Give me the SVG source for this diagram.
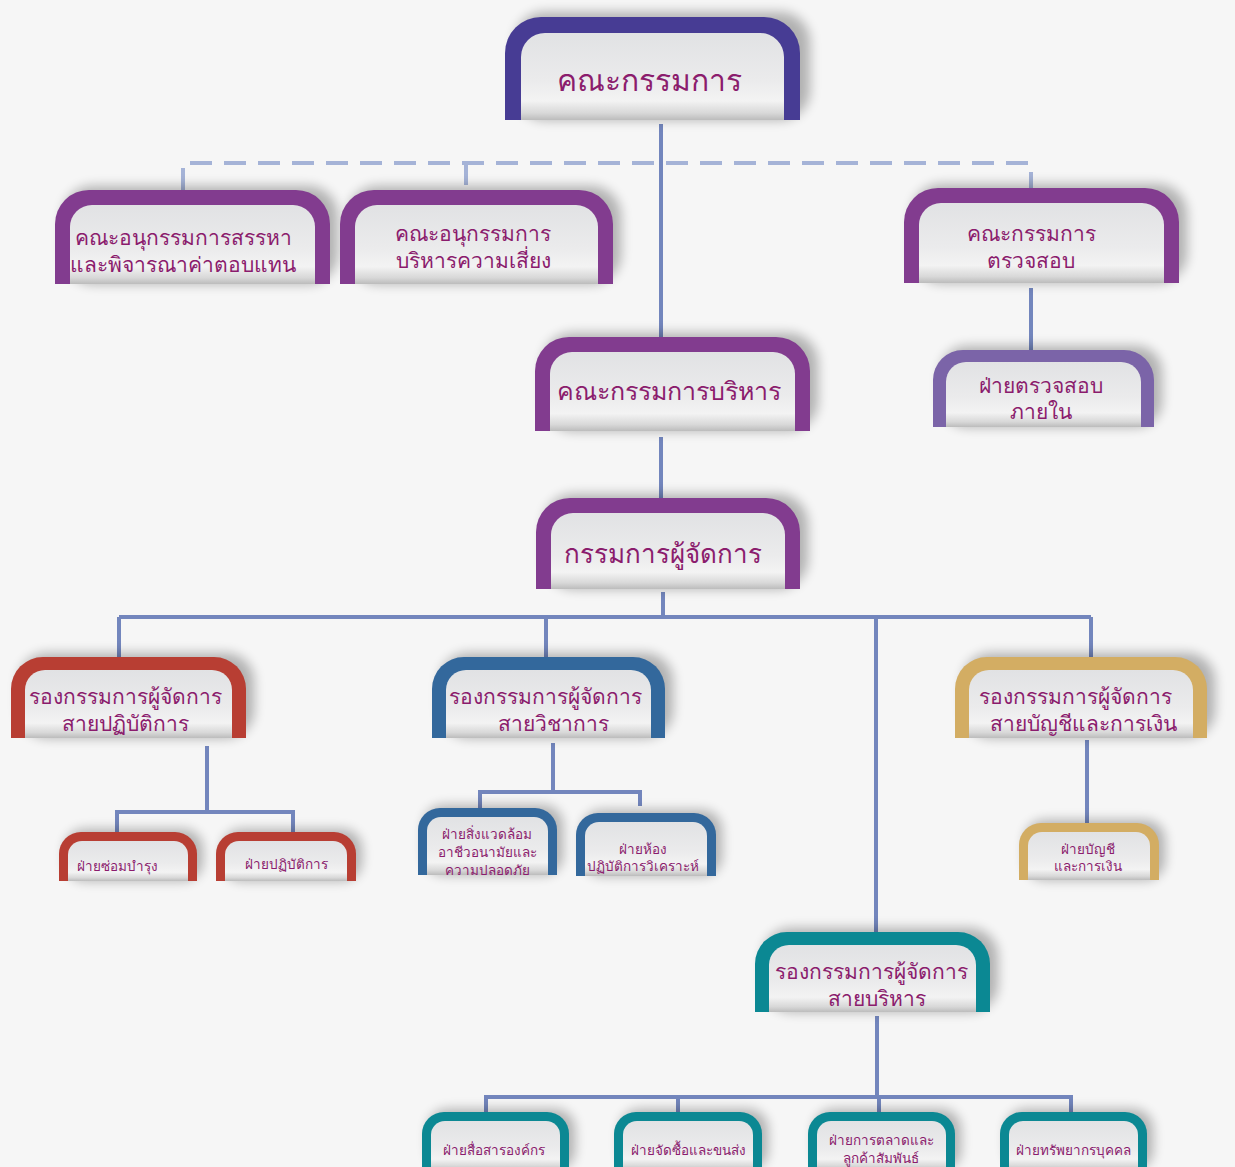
<svg xmlns="http://www.w3.org/2000/svg" width="1235" height="1167" viewBox="0 0 1235 1167">
<style>
.bg{fill:#f6f6f6}
.in{fill:url(#gIn)}
.c-ind{fill:#473c94}.c-pur{fill:#823c8f}.c-lp{fill:#7b64a8}.c-red{fill:#b83e33}.c-blu{fill:#33689c}.c-gld{fill:#d3ad63}.c-tea{fill:#0b8893}
.sh{fill:#000;opacity:.28;filter:url(#blur)}
.ln{stroke:#7386bd;stroke-width:4;fill:none}
.dash{stroke:#a5b3d7;stroke-width:4;fill:none;stroke-dasharray:22 12}
text{font-family:"Noto Sans","DejaVu Sans",sans-serif;fill:#8b1c6d;text-anchor:middle}
.xl{font-size:30px}.l{font-size:25px}.md{font-size:26px}.m{font-size:21px}.s{font-size:13.5px}
</style>
<defs>
<linearGradient id="gIn" x1="0" y1="0" x2="0" y2="1">
<stop offset="0" stop-color="#e1e2e4"/>
<stop offset="0.55" stop-color="#ebebec"/>
<stop offset="0.78" stop-color="#f3f3f3"/>
<stop offset="0.92" stop-color="#d8d8d8"/>
<stop offset="1" stop-color="#bcbcbc"/>
</linearGradient>
<filter id="blur" x="-20%" y="-30%" width="140%" height="160%"><feGaussianBlur stdDeviation="6"/></filter>
</defs>
<rect class="bg" x="0" y="0" width="1235" height="1167"/>

<g id="connectors">
<path class="dash" d="M183,190 V163 H1031 V188 M466,163 V190"/>
<path class="ln" d="M661,124 V337 M661,437 V498 M663,592 V617 M119,617 H1091 M119,617 V657 M546,617 V657 M876,617 V932 M1091,617 V657"/>
<path class="ln" d="M1031,288 V350"/>
<path class="ln" d="M207,746 V812 M117,832 V812 H293 V832"/>
<path class="ln" d="M553,743 V792 M480,808 V792 H640 V806"/>
<path class="ln" d="M1087,740 V825"/>
<path class="ln" d="M877,1016 V1097 M486,1113 V1097 H1071 V1113 M678,1097 V1113 M879,1097 V1113"/>
</g>

<g id="n-board">
<rect class="sh" x="515" y="12" width="295" height="108" rx="30"/>
<path class="c-ind" d="M505,120 V53 A36 36 0 0 1 541,17 H764 A36 36 0 0 1 800,53 V120 Z"/>
<path class="in" d="M521,120 V57 A24 24 0 0 1 545,33 H760 A24 24 0 0 1 784,57 V120 Z"/>
<text class="xl" x="649" y="91">คณะกรรมการ</text>
</g>

<g id="n-nomination">
<rect class="sh" x="63" y="186" width="275" height="98" rx="30"/>
<path class="c-pur" d="M55,284 V224 A34 34 0 0 1 89,190 H296 A34 34 0 0 1 330,224 V284 Z"/>
<path class="in" d="M70,284 V227 A22 22 0 0 1 92,205 H293 A22 22 0 0 1 315,227 V284 Z"/>
<text class="m" x="183" y="245">คณะอนุกรรมการสรรหา</text>
<text class="m" x="183" y="272">และพิจารณาค่าตอบแทน</text>
</g>

<g id="n-risk">
<rect class="sh" x="348" y="186" width="273" height="98" rx="30"/>
<path class="c-pur" d="M340,284 V224 A34 34 0 0 1 374,190 H579 A34 34 0 0 1 613,224 V284 Z"/>
<path class="in" d="M355,284 V227 A22 22 0 0 1 377,205 H576 A22 22 0 0 1 598,227 V284 Z"/>
<text class="m" x="473" y="241">คณะอนุกรรมการ</text>
<text class="m" x="473" y="268">บริหารความเสี่ยง</text>
</g>

<g id="n-audit-committee">
<rect class="sh" x="912" y="184" width="275" height="99" rx="30"/>
<path class="c-pur" d="M904,283 V222 A34 34 0 0 1 938,188 H1145 A34 34 0 0 1 1179,222 V283 Z"/>
<path class="in" d="M919,283 V225 A22 22 0 0 1 941,203 H1142 A22 22 0 0 1 1164,225 V283 Z"/>
<text class="m" x="1031" y="241">คณะกรรมการ</text>
<text class="m" x="1031" y="268">ตรวจสอบ</text>
</g>

<g id="n-internal-audit">
<rect class="sh" x="941" y="346" width="221" height="81" rx="26"/>
<path class="c-lp" d="M933,427 V380 A30 30 0 0 1 963,350 H1124 A30 30 0 0 1 1154,380 V427 Z"/>
<path class="in" d="M946,427 V382 A20 20 0 0 1 966,362 H1121 A20 20 0 0 1 1141,382 V427 Z"/>
<text class="m" x="1041" y="393">ฝ่ายตรวจสอบ</text>
<text class="m" x="1041" y="419">ภายใน</text>
</g>

<g id="n-executive">
<rect class="sh" x="543" y="333" width="275" height="98" rx="30"/>
<path class="c-pur" d="M535,431 V371 A34 34 0 0 1 569,337 H776 A34 34 0 0 1 810,371 V431 Z"/>
<path class="in" d="M550,431 V374 A22 22 0 0 1 572,352 H773 A22 22 0 0 1 795,374 V431 Z"/>
<text class="l" x="669" y="400">คณะกรรมการบริหาร</text>
</g>

<g id="n-md">
<rect class="sh" x="544" y="494" width="264" height="95" rx="30"/>
<path class="c-pur" d="M536,589 V532 A34 34 0 0 1 570,498 H766 A34 34 0 0 1 800,532 V589 Z"/>
<path class="in" d="M551,589 V535 A22 22 0 0 1 573,513 H763 A22 22 0 0 1 785,535 V589 Z"/>
<text class="md" x="663" y="563">กรรมการผู้จัดการ</text>
</g>

<g id="n-vp-ops">
<rect class="sh" x="19" y="653" width="235" height="85" rx="28"/>
<path class="c-red" d="M11,738 V689 A32 32 0 0 1 43,657 H214 A32 32 0 0 1 246,689 V738 Z"/>
<path class="in" d="M25,738 V690 A20 20 0 0 1 45,670 H212 A20 20 0 0 1 232,690 V738 Z"/>
<text class="m" x="125" y="704">รองกรรมการผู้จัดการ</text>
<text class="m" x="125" y="731">สายปฏิบัติการ</text>
</g>

<g id="n-vp-tech">
<rect class="sh" x="440" y="653" width="233" height="85" rx="28"/>
<path class="c-blu" d="M432,738 V689 A32 32 0 0 1 464,657 H633 A32 32 0 0 1 665,689 V738 Z"/>
<path class="in" d="M446,738 V690 A20 20 0 0 1 466,670 H631 A20 20 0 0 1 651,690 V738 Z"/>
<text class="m" x="545" y="704">รองกรรมการผู้จัดการ</text>
<text class="m" x="553" y="731">สายวิชาการ</text>
</g>

<g id="n-vp-fin">
<rect class="sh" x="963" y="653" width="252" height="85" rx="28"/>
<path class="c-gld" d="M955,738 V689 A32 32 0 0 1 987,657 H1175 A32 32 0 0 1 1207,689 V738 Z"/>
<path class="in" d="M969,738 V690 A20 20 0 0 1 989,670 H1173 A20 20 0 0 1 1193,690 V738 Z"/>
<text class="m" x="1075" y="704">รองกรรมการผู้จัดการ</text>
<text class="m" x="1083" y="731">สายบัญชีและการเงิน</text>
</g>

<g id="n-vp-admin">
<rect class="sh" x="763" y="928" width="235" height="84" rx="28"/>
<path class="c-tea" d="M755,1012 V964 A32 32 0 0 1 787,932 H958 A32 32 0 0 1 990,964 V1012 Z"/>
<path class="in" d="M769,1012 V965 A20 20 0 0 1 789,945 H956 A20 20 0 0 1 976,965 V1012 Z"/>
<text class="m" x="871" y="979">รองกรรมการผู้จัดการ</text>
<text class="m" x="877" y="1006">สายบริหาร</text>
</g>

<g id="n-maint">
<rect class="sh" x="65" y="829" width="138" height="52" rx="20"/>
<path class="c-red" d="M59,881 V854 A22 22 0 0 1 81,832 H175 A22 22 0 0 1 197,854 V881 Z"/>
<path class="in" d="M68,881 V855 A14 14 0 0 1 82,841 H174 A14 14 0 0 1 188,855 V881 Z"/>
<text class="s" x="117" y="871">ฝ่ายซ่อมบำรุง</text>
</g>

<g id="n-operation">
<rect class="sh" x="222" y="829" width="140" height="52" rx="20"/>
<path class="c-red" d="M216,881 V854 A22 22 0 0 1 238,832 H334 A22 22 0 0 1 356,854 V881 Z"/>
<path class="in" d="M225,881 V855 A14 14 0 0 1 239,841 H333 A14 14 0 0 1 347,855 V881 Z"/>
<text class="s" x="286" y="869">ฝ่ายปฏิบัติการ</text>
</g>

<g id="n-env">
<rect class="sh" x="424" y="805" width="139" height="70" rx="20"/>
<path class="c-blu" d="M418,875 V830 A22 22 0 0 1 440,808 H535 A22 22 0 0 1 557,830 V875 Z"/>
<path class="in" d="M427,875 V831 A14 14 0 0 1 441,817 H534 A14 14 0 0 1 548,831 V875 Z"/>
<text class="s" x="487" y="839">ฝ่ายสิ่งแวดล้อม</text>
<text class="s" x="487" y="857">อาชีวอนามัยและ</text>
<text class="s" x="487" y="875">ความปลอดภัย</text>
</g>

<g id="n-lab">
<rect class="sh" x="582" y="810" width="140" height="66" rx="20"/>
<path class="c-blu" d="M576,876 V835 A22 22 0 0 1 598,813 H694 A22 22 0 0 1 716,835 V876 Z"/>
<path class="in" d="M585,876 V836 A14 14 0 0 1 599,822 H693 A14 14 0 0 1 707,836 V876 Z"/>
<text class="s" x="643" y="854">ฝ่ายห้อง</text>
<text class="s" x="643" y="871">ปฏิบัติการวิเคราะห์</text>
</g>

<g id="n-acc">
<rect class="sh" x="1025" y="820" width="140" height="60" rx="20"/>
<path class="c-gld" d="M1019,880 V845 A22 22 0 0 1 1041,823 H1137 A22 22 0 0 1 1159,845 V880 Z"/>
<path class="in" d="M1028,880 V846 A14 14 0 0 1 1042,832 H1136 A14 14 0 0 1 1150,846 V880 Z"/>
<text class="s" x="1088" y="854">ฝ่ายบัญชี</text>
<text class="s" x="1088" y="871">และการเงิน</text>
</g>

<g id="n-comm">
<rect class="sh" x="428" y="1109" width="147" height="61" rx="20"/>
<path class="c-tea" d="M422,1170 V1134 A22 22 0 0 1 444,1112 H547 A22 22 0 0 1 569,1134 V1170 Z"/>
<path class="in" d="M431,1170 V1135 A14 14 0 0 1 445,1121 H546 A14 14 0 0 1 560,1135 V1170 Z"/>
<text class="s" x="494" y="1155">ฝ่ายสื่อสารองค์กร</text>
</g>

<g id="n-purchase">
<rect class="sh" x="620" y="1109" width="148" height="61" rx="20"/>
<path class="c-tea" d="M614,1170 V1134 A22 22 0 0 1 636,1112 H740 A22 22 0 0 1 762,1134 V1170 Z"/>
<path class="in" d="M623,1170 V1135 A14 14 0 0 1 637,1121 H739 A14 14 0 0 1 753,1135 V1170 Z"/>
<text class="s" x="688" y="1155">ฝ่ายจัดซื้อและขนส่ง</text>
</g>

<g id="n-marketing">
<rect class="sh" x="814" y="1109" width="147" height="61" rx="20"/>
<path class="c-tea" d="M808,1170 V1134 A22 22 0 0 1 830,1112 H933 A22 22 0 0 1 955,1134 V1170 Z"/>
<path class="in" d="M817,1170 V1135 A14 14 0 0 1 831,1121 H932 A14 14 0 0 1 946,1135 V1170 Z"/>
<text class="s" x="881" y="1145">ฝ่ายการตลาดและ</text>
<text class="s" x="881" y="1163">ลูกค้าสัมพันธ์</text>
</g>

<g id="n-hr">
<rect class="sh" x="1006" y="1109" width="147" height="61" rx="20"/>
<path class="c-tea" d="M1000,1170 V1134 A22 22 0 0 1 1022,1112 H1125 A22 22 0 0 1 1147,1134 V1170 Z"/>
<path class="in" d="M1009,1170 V1135 A14 14 0 0 1 1023,1121 H1124 A14 14 0 0 1 1138,1135 V1170 Z"/>
<text class="s" x="1073" y="1155">ฝ่ายทรัพยากรบุคคล</text>
</g>
</svg>
